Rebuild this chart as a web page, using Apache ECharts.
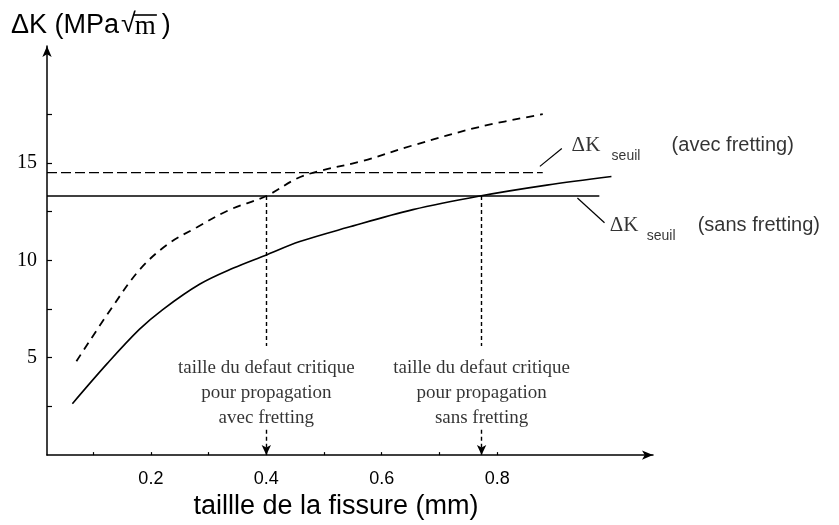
<!DOCTYPE html>
<html>
<head>
<meta charset="utf-8">
<script src="https://cdn.jsdelivr.net/npm/echarts@6/dist/echarts.min.js"></script>
<style>
html,body{margin:0;padding:0;background:#fff;}
#chart{width:839px;height:525px;}
</style>
</head>
<body>
<div id="chart"></div>
<script>
// Crack size (mm) vs stress intensity range ΔK (MPa√m)
const sansFrettingX = [0.064, 0.125, 0.18, 0.22, 0.285, 0.343, 0.398, 0.458, 0.54, 0.654, 0.77, 0.886, 0.998];
const sansFrettingY = [2.64, 4.72, 6.45, 7.46, 8.78, 9.6, 10.25, 10.96, 11.68, 12.6, 13.3, 13.86, 14.3];
const avecFrettingX = [0.071, 0.13, 0.18, 0.228, 0.28, 0.337, 0.40, 0.453, 0.49, 0.567, 0.654, 0.77, 0.879];
const avecFrettingY = [4.82, 7.46, 9.5, 10.8, 11.7, 12.6, 13.3, 14.2, 14.57, 15.1, 15.9, 16.85, 17.5];

// Threshold levels and their extent along the crack-size axis
const seuilAvec = 14.5;
const seuilAvecSpan = [0.02, 0.879];
const seuilSans = 13.3;
const seuilSansSpan = [0.02, 0.977];

// Critical defect sizes
const critiqueAvec = 0.40;
const critiqueSans = 0.773;

// Axis ticks and labels
const xLabelValues = [0.2, 0.4, 0.6, 0.8];
const xTickValues = [0.1, 0.2, 0.3, 0.4, 0.5, 0.6, 0.7, 0.8];
const yLabelValues = [5, 10, 15];
const yTickValues = [2.5, 5, 7.5, 10, 12.5, 15, 17.5];

const annotationText = [
  'taille du defaut critique\npour propagation\navec fretting',
  'taille du defaut critique\npour propagation\nsans fretting'
];
const seuilLabels = ['(avec fretting)', '(sans fretting)'];

const zip = (xs, ys) => xs.map((x, i) => [x, ys[i]]);

const SANS = 'Liberation Sans, Arial, sans-serif';
const SERIF = 'Liberation Serif, Times New Roman, serif';

const chart = echarts.init(document.getElementById('chart'), null, {renderer: 'canvas'});

const thin = {color: '#000', width: 1.2, type: 'solid'};

// one threshold caption: ΔK, subscript "seuil", then the condition in brackets
function seuilCaption(anchor, text, seuilDx, textDx) {
  const base = {position: 'right', distance: 0, align: 'left', verticalAlign: 'middle', color: '#000'};
  return [
    {value: anchor, label: Object.assign({}, base, {formatter: 'ΔK', fontFamily: SERIF, fontSize: 21, offset: [0, 0]})},
    {value: anchor, label: Object.assign({}, base, {formatter: 'seuil', fontFamily: SANS, fontSize: 14, offset: [seuilDx, 11]})},
    {value: anchor, label: Object.assign({}, base, {formatter: text, fontFamily: SANS, fontSize: 20, offset: [textDx, 0]})}
  ];
}

const option = {
  animation: false,
  backgroundColor: '#fff',
  grid: {left: 47, right: 186, top: 46, bottom: 65, containLabel: false},
  xAxis: {
    type: 'value', min: 0.02, max: 1.07,
    axisLine: {show: true, symbol: ['none', 'arrow'], symbolSize: [7, 11], lineStyle: {color: '#000', width: 1.5}},
    axisTick: {show: true, customValues: xTickValues, length: 3, inside: true, lineStyle: {color: '#000', width: 1.2}},
    axisLabel: {show: true, customValues: xLabelValues, margin: 15, color: '#000', fontFamily: SANS, fontSize: 18,
      formatter: v => v.toFixed(1)},
    splitLine: {show: false},
    name: 'taillle de la fissure (mm)',
    nameLocation: 'middle', nameGap: 34,
    nameTextStyle: {color: '#000', fontFamily: SANS, fontSize: 27, padding: [0, 28, 0, 0]}
  },
  yAxis: {
    type: 'value', min: 0, max: 21,
    axisLine: {show: true, symbol: ['none', 'arrow'], symbolSize: [7, 11], lineStyle: {color: '#000', width: 1.5}},
    axisTick: {show: true, customValues: yTickValues, length: 5, inside: true, lineStyle: {color: '#000', width: 1.2}},
    axisLabel: {show: true, customValues: yLabelValues, margin: 10, color: '#000', fontFamily: SERIF, fontSize: 20},
    splitLine: {show: false}
  },
  series: [
    {
      name: 'sans fretting', type: 'line', smooth: 0.35, showSymbol: false, symbol: 'none',
      data: zip(sansFrettingX, sansFrettingY),
      lineStyle: {color: '#000', width: 1.6}
    },
    {
      name: 'avec fretting', type: 'line', smooth: 0.35, showSymbol: false, symbol: 'none',
      data: zip(avecFrettingX, avecFrettingY),
      lineStyle: {color: '#000', width: 1.8, type: [8, 6]}
    },
    {
      name: 'seuil avec', type: 'line', showSymbol: false, symbol: 'none',
      data: seuilAvecSpan.map(x => [x, seuilAvec]),
      lineStyle: {color: '#000', width: 1.4, type: [10, 4]}
    },
    {
      name: 'seuil sans', type: 'line', showSymbol: false, symbol: 'none',
      data: seuilSansSpan.map(x => [x, seuilSans]),
      lineStyle: {color: '#000', width: 1.4}
    },
    {
      // critical-size markers and label leaders
      name: 'reperes', type: 'line', data: [], silent: true,
      markLine: {
        silent: true, animation: false, label: {show: false},
        lineStyle: {color: '#000', width: 1.4, type: [4, 3]},
        data: [
          [{coord: [critiqueAvec, seuilSans], symbol: 'none'}, {coord: [critiqueAvec, 5.6], symbol: 'none'}],
          [{coord: [critiqueAvec, 1.3], symbol: 'none'}, {coord: [critiqueAvec, 0], symbol: 'arrow', symbolSize: [7, 10]}],
          [{coord: [critiqueSans, seuilSans], symbol: 'none'}, {coord: [critiqueSans, 5.6], symbol: 'none'}],
          [{coord: [critiqueSans, 1.3], symbol: 'none'}, {coord: [critiqueSans, 0], symbol: 'arrow', symbolSize: [7, 10]}],
          [{coord: [0.874, 14.82], symbol: 'none', lineStyle: thin}, {coord: [0.912, 15.74], symbol: 'none'}],
          [{coord: [0.939, 13.2], symbol: 'none', lineStyle: thin}, {coord: [0.986, 11.93], symbol: 'none'}]
        ]
      }
    },
    {
      // annotation text blocks and threshold captions
      name: 'textes', type: 'scatter', symbolSize: 0, silent: true,
      data: [
        {value: [critiqueAvec, 3.2], label: {formatter: annotationText[0]}},
        {value: [critiqueSans, 3.2], label: {formatter: annotationText[1]}}
      ].concat(
        seuilCaption([0.929, 15.9], seuilLabels[0], 40, 100),
        seuilCaption([0.995, 11.78], seuilLabels[1], 37, 88)
      ),
      label: {
        show: true, position: 'inside', color: '#000', fontFamily: SERIF, fontSize: 19, lineHeight: 25, align: 'center'
      }
    }
  ]
};

chart.setOption(option);

// Axis title with a radical sign over m
(function drawYTitle() {
  const ctx = document.createElement('canvas').getContext('2d');
  const sansFont = '27px Liberation Sans';
  const serifFont = '27px Liberation Serif';
  ctx.font = sansFont;
  const part1 = 'ΔK (MPa';
  const w1 = ctx.measureText(part1).width;
  const wRad = ctx.measureText('√').width;
  ctx.font = serifFont;
  const wM = ctx.measureText('m').width;
  const x0 = 11, y0 = 12;
  const xRad = x0 + w1 + 2;
  const xM = xRad + wRad - 1;
  chart.setOption({
    graphic: [
      {type: 'text', left: x0, top: y0, style: {text: part1, font: sansFont, fill: '#000'}},
      {type: 'text', left: xRad, top: y0 - 1, style: {text: '√', font: sansFont, fill: '#000'}},
      {type: 'text', left: xM, top: y0 + 1, style: {text: 'm', font: serifFont, fill: '#000'}},
      {type: 'line', shape: {x1: xRad + wRad - 2, y1: y0 + 3, x2: xM + wM + 1, y2: y0 + 3}, style: {stroke: '#000', lineWidth: 1.6}},
      {type: 'text', left: xM + wM + 6, top: y0, style: {text: ')', font: sansFont, fill: '#000'}}
    ]
  });
})();
</script>
</body>
</html>
